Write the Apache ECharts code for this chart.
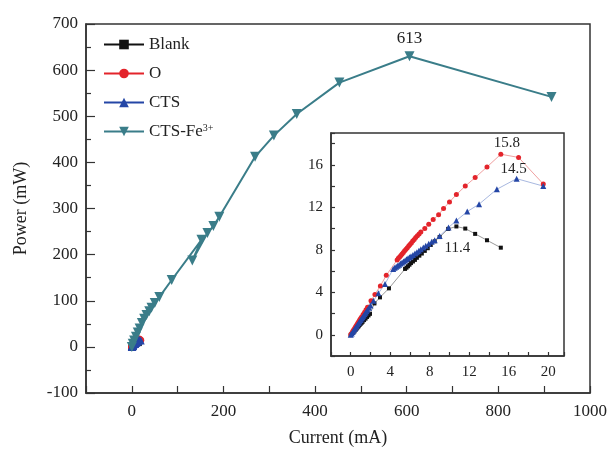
<!DOCTYPE html>
<html>
<head>
<meta charset="utf-8">
<script src="https://cdn.jsdelivr.net/npm/echarts@6/dist/echarts.min.js"></script>
<style>
html, body { margin: 0; background: #fff; }
#chart { width: 610px; height: 454px; }
</style>
</head>
<body>
<div id="chart"></div>
<script>
// main plot: CTS-Fe3+ (current mA, power mW)
var fePoints = [[0, 0], [2, 7], [5, 14], [9, 22], [13, 31], [17, 40], [22, 52], [27, 61], [32, 69], [38, 77], [43, 85], [50, 95], [60, 108],
    [87, 145], [152, 232], [132, 187], [165, 247], [178, 262], [191, 282], [269, 412], [310, 458], [360, 505], [453, 573], [606, 630], [916, 542]];
var fePeakText = '613';

// inset series (current mA, power mW)
var blankPoints = [[0, 0], [0.1, 0.08], [0.2, 0.18], [0.3, 0.28], [0.4, 0.38], [0.5, 0.48], [0.6, 0.6], [0.7, 0.7], [0.8, 0.8], [0.9, 0.92],
    [1.0, 1.02], [1.1, 1.12], [1.2, 1.22], [1.35, 1.38], [1.5, 1.52], [1.65, 1.68], [1.8, 1.82], [1.95, 1.97], [2.4, 2.95], [2.96, 3.52],
    [3.87, 4.37], [5.5, 6.2], [5.65, 6.32], [5.8, 6.45], [5.95, 6.6], [6.1, 6.75], [6.3, 6.9], [6.5, 7.05], [6.7, 7.25], [6.95, 7.45],
    [7.2, 7.65], [7.5, 7.9], [7.8, 8.15], [8.1, 8.45], [8.5, 8.8], [9.0, 9.2], [9.87, 9.97], [10.7, 10.2], [11.6, 10.0], [12.6, 9.5],
    [13.8, 8.9], [15.2, 8.2]];
var oPoints = [[0, 0], [0.1, 0.15], [0.2, 0.32], [0.3, 0.47], [0.4, 0.62], [0.5, 0.78], [0.6, 0.93], [0.7, 1.08], [0.8, 1.22], [0.9, 1.38],
    [1.0, 1.52], [1.1, 1.68], [1.25, 1.9], [1.4, 2.12], [1.55, 2.35], [1.7, 2.6], [2.05, 3.2], [2.45, 3.8], [3.0, 4.6], [3.6, 5.6],
    [4.7, 7.05], [4.82, 7.2], [4.95, 7.33], [5.08, 7.47], [5.2, 7.6], [5.33, 7.75], [5.46, 7.9], [5.6, 8.05], [5.73, 8.2], [5.87, 8.35],
    [6.0, 8.5], [6.14, 8.65], [6.28, 8.82], [6.43, 8.98], [6.58, 9.15], [6.75, 9.32], [6.92, 9.5], [7.1, 9.68], [7.5, 10.0], [7.9, 10.4],
    [8.35, 10.85], [8.9, 11.3], [9.4, 11.9], [10.0, 12.5], [10.7, 13.2], [11.6, 14.0], [12.6, 14.8], [13.8, 15.8], [15.2, 17.0],
    [17.0, 16.7], [19.5, 14.2]];
var ctsPoints = [[0, 0], [0.1, 0.12], [0.2, 0.26], [0.3, 0.4], [0.4, 0.54], [0.5, 0.68], [0.6, 0.82], [0.7, 0.96], [0.8, 1.1], [0.9, 1.24],
    [1.0, 1.38], [1.1, 1.52], [1.2, 1.66], [1.3, 1.8], [1.4, 1.94], [1.5, 2.08], [1.6, 2.22], [1.7, 2.36], [1.85, 2.55], [2.0, 2.75],
    [2.3, 3.2], [2.8, 3.9], [3.47, 4.78], [4.3, 6.2], [4.45, 6.3], [4.6, 6.4], [4.75, 6.5], [4.9, 6.6], [5.05, 6.7], [5.2, 6.8],
    [5.35, 6.9], [5.5, 7.0], [5.65, 7.1], [5.8, 7.2], [5.95, 7.3], [6.1, 7.4], [6.3, 7.52], [6.5, 7.65], [6.7, 7.78], [6.9, 7.92],
    [7.1, 8.05], [7.35, 8.22], [7.6, 8.38], [7.9, 8.57], [8.2, 8.75], [8.5, 8.9], [9.0, 9.3], [9.9, 10.1], [10.7, 10.75], [11.8, 11.6],
    [13.0, 12.3], [14.8, 13.7], [16.8, 14.7], [19.5, 14.0]];
var insetNotes = { 'Blank': '11.4', 'O': '15.8', 'CTS': '14.5' };

var mainXLabels = [0, 200, 400, 600, 800, 1000];
var insetLabels = [0, 4, 8, 12, 16, 20];

var FONT = 'Liberation Serif';
var TEAL = '#3a7d89';

function peakIndex(pts) {
    var k = 0;
    for (var i = 1; i < pts.length; i++) if (pts[i][1] > pts[k][1]) k = i;
    return k;
}

function withLabel(pts, text, label) {
    var k = peakIndex(pts);
    return pts.map(function (p, i) {
        if (i !== k) return p;
        return { value: p, label: Object.assign({ show: true, formatter: text, color: '#222', fontFamily: FONT }, label) };
    });
}

function showIf(list) {
    return function (v) { return list.indexOf(v) >= 0 ? String(v) : ''; };
}

function axisCommon(fs) {
    return {
        axisLine: { show: true, onZero: false, lineStyle: { color: '#333', width: 1.5 } },
        splitLine: { show: false },
        axisLabel: { color: '#222', fontFamily: FONT, fontSize: fs },
        axisTick: { inside: true, lineStyle: { color: '#333', width: 1.2 } }
    };
}

var chart = echarts.init(document.getElementById('chart'));

var mainX = axisCommon(17);
mainX.gridIndex = 0; mainX.type = 'value'; mainX.min = -100; mainX.max = 1000; mainX.interval = 100;
mainX.axisLabel.formatter = showIf(mainXLabels); mainX.axisLabel.margin = 10;
mainX.axisTick.length = 7;
mainX.name = 'Current (mA)'; mainX.nameLocation = 'middle'; mainX.nameGap = 36;
mainX.nameTextStyle = { fontFamily: FONT, fontSize: 18, color: '#222' };

var mainY = axisCommon(17);
mainY.gridIndex = 0; mainY.type = 'value'; mainY.min = -100; mainY.max = 700; mainY.interval = 100;
mainY.axisTick.length = 9; mainY.axisLabel.margin = 8;
mainY.minorTick = { show: true, splitNumber: 2, length: 5, lineStyle: { color: '#333', width: 1.2 } };
mainY.name = 'Power (mW)'; mainY.nameLocation = 'middle'; mainY.nameGap = 56;
mainY.nameTextStyle = { fontFamily: FONT, fontSize: 18, color: '#222' };

var insX = axisCommon(15);
insX.gridIndex = 1; insX.type = 'value'; insX.min = -2; insX.max = 21.6; insX.interval = 2;
insX.axisLabel.formatter = showIf(insetLabels); insX.axisLabel.margin = 9; insX.axisTick.length = 4;

var insY = axisCommon(15);
insY.gridIndex = 1; insY.type = 'value'; insY.min = -2; insY.max = 19; insY.interval = 2;
insY.axisLabel.formatter = showIf(insetLabels); insY.axisLabel.margin = 8; insY.axisTick.length = 4;

var option = {
    backgroundColor: '#fff',
    animation: false,
    grid: [
        { left: 86, top: 24, right: 17, bottom: 61, show: true, borderColor: '#333', borderWidth: 1.5 },
        { left: 331, top: 133, right: 46, bottom: 98, show: true, borderColor: '#333', borderWidth: 1.5, backgroundColor: '#fff' }
    ],
    legend: {
        data: ['Blank', 'O', 'CTS', 'CTS-Fe3+'],
        orient: 'vertical',
        left: 98,
        top: 31,
        itemWidth: 40,
        itemHeight: 12,
        itemGap: 12,
        textStyle: {
            fontFamily: FONT, fontSize: 17, color: '#222',
            rich: { sup: { fontFamily: FONT, fontSize: 10, color: '#222', verticalAlign: 'top' } }
        },
        formatter: function (name) {
            return name === 'CTS-Fe3+' ? 'CTS-Fe{sup|3+}' : name;
        }
    },
    xAxis: [mainX, insX],
    yAxis: [mainY, insY],
    series: [
        {
            name: 'Blank', type: 'line', xAxisIndex: 0, yAxisIndex: 0, data: blankPoints,
            symbol: 'rect', symbolSize: 6, lineStyle: { color: '#111', width: 1.5 }, itemStyle: { color: '#111' }
        },
        {
            name: 'O', type: 'line', xAxisIndex: 0, yAxisIndex: 0, data: oPoints,
            symbol: 'circle', symbolSize: 7, lineStyle: { color: '#e3242b', width: 1.5 }, itemStyle: { color: '#e3242b' }
        },
        {
            name: 'CTS', type: 'line', xAxisIndex: 0, yAxisIndex: 0, data: ctsPoints,
            symbol: 'triangle', symbolSize: 8, lineStyle: { color: '#2446a6', width: 1.5 }, itemStyle: { color: '#2446a6' }
        },
        {
            name: 'CTS-Fe3+', type: 'line', xAxisIndex: 0, yAxisIndex: 0,
            data: withLabel(fePoints, fePeakText, { position: 'top', distance: 4, fontSize: 17 }),
            symbol: 'triangle', symbolRotate: 180, symbolSize: 10,
            lineStyle: { color: TEAL, width: 2 }, itemStyle: { color: TEAL }
        },
        // inset copies
        {
            name: 'Blank', type: 'line', xAxisIndex: 1, yAxisIndex: 1,
            data: withLabel(blankPoints, insetNotes['Blank'], { position: 'bottom', distance: 12, offset: [1, 0], fontSize: 15 }),
            symbol: 'rect', symbolSize: 4, lineStyle: { color: '#999', width: 1 }, itemStyle: { color: '#111' }
        },
        {
            name: 'O', type: 'line', xAxisIndex: 1, yAxisIndex: 1,
            data: withLabel(oPoints, insetNotes['O'], { position: 'top', distance: 2, offset: [6, 1], fontSize: 15 }),
            symbol: 'circle', symbolSize: 5, lineStyle: { color: '#f0a0a0', width: 1 }, itemStyle: { color: '#e3242b' }
        },
        {
            name: 'CTS', type: 'line', xAxisIndex: 1, yAxisIndex: 1,
            data: withLabel(ctsPoints, insetNotes['CTS'], { position: 'top', distance: 1, offset: [-3, 2], fontSize: 15 }),
            symbol: 'triangle', symbolSize: 6, lineStyle: { color: '#a8b8e0', width: 1 }, itemStyle: { color: '#2446a6' }
        }
    ]
};

chart.setOption(option);
window.addEventListener('resize', function () { chart.resize(); });
</script>
</body>
</html>
